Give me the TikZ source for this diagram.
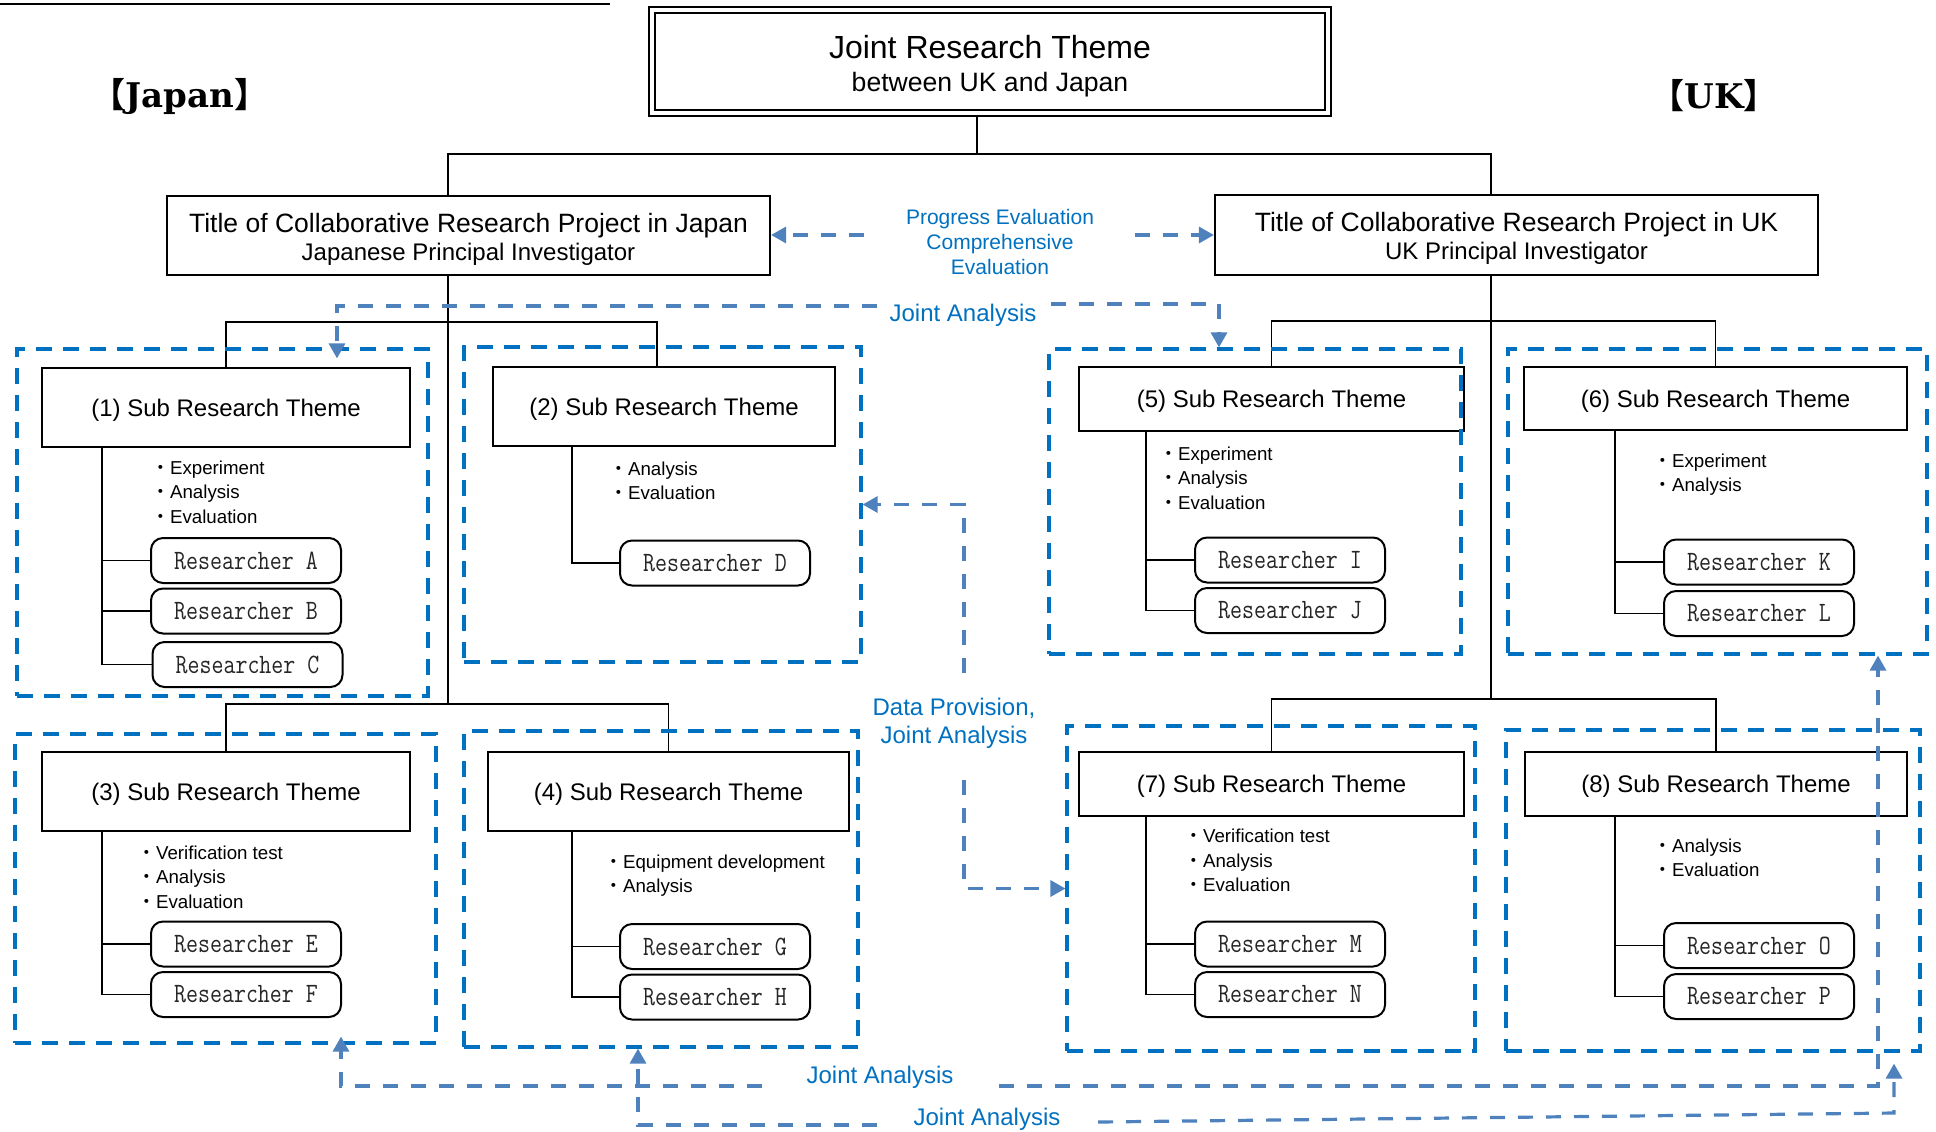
\documentclass[tikz,border=0pt]{standalone}
\usepackage{fontspec}
\usepackage{graphicx}
\setmainfont{Liberation Sans}
\newfontfamily\cjkfont{Noto Sans CJK JP}
\newfontfamily\brserif{DejaVu Serif}
\usetikzlibrary{arrows.meta,calc,backgrounds}
\definecolor{frameblue}{RGB}{0,112,192}
\definecolor{arrblue}{RGB}{79,129,189}
\newcommand{\bul}{{\cjkfont ・}}
\newcommand{\resname}[1]{\scalebox{0.83}[1]{\ttfamily\fontsize{14}{14}\selectfont #1}}
\newcommand{\thm}[1]{\rule{0pt}{11.3pt}#1}
\begin{document}
\begin{tikzpicture}[x=0.5pt,y=-0.5pt,
 conn/.style={draw=black,line width=0.9pt},
 box/.style={draw=black,line width=1.1pt,fill=white,inner sep=0pt,align=center},
 theme/.style={box,font=\fontsize{12}{14}\selectfont},
 frame/.style={draw=frameblue,line width=1.6pt,dash pattern=on 8pt off 5.5pt,inner sep=0pt},
 rbox/.style={draw=black,line width=1pt,rounded corners=6pt,fill=white,minimum width=95pt,minimum height=22.5pt,inner sep=0pt,text=black!85},
 blist/.style={anchor=west,align=left,inner sep=0pt,font=\fontsize{9.35}{12.25}\selectfont},
 lab/.style={text=frameblue,align=center,inner sep=0pt},
 arr/.style={draw=arrblue,line width=1.6pt,dash pattern=on 7.5pt off 6.5pt,-{Triangle[length=7.5pt,width=8pt]}},
]
\useasboundingbox (0,0) rectangle (1936,1131);

% stray top rule
\draw[line width=1pt] (0,4) -- (610,4);

% side labels
\node[font=\brserif\bfseries\fontsize{17}{20}\selectfont,inner sep=0pt] (lbljp) at (180,96) {{\cjkfont\bfseries 【}Japan{\cjkfont\bfseries 】}};
\node[font=\brserif\bfseries\fontsize{17}{20}\selectfont,inner sep=0pt] (lbluk) at (1714,96) {{\cjkfont\bfseries 【}UK{\cjkfont\bfseries 】}};

% title
\node[box,double,double distance=2pt,line width=1.1pt,minimum width=338pt,minimum height=51.5pt,font=\fontsize{16}{16.5}\selectfont] (title) at (990,61.5)
 {\rule{0pt}{16.2pt}Joint Research Theme\\{\fontsize{13.3}{16.5}\selectfont between UK and Japan}};

% project boxes
\node[box,minimum width=301.5pt,minimum height=39.5pt,font=\fontsize{13.25}{14}\selectfont] (jp) at (468.5,235.5)
 {\rule{0pt}{13.4pt}Title of Collaborative Research Project in Japan\\{\fontsize{12}{14}\selectfont Japanese Principal Investigator}};
\node[box,minimum width=301.5pt,minimum height=40pt,font=\fontsize{13.25}{14}\selectfont] (uk) at (1516.5,235)
 {\rule{0pt}{13.4pt}Title of Collaborative Research Project in UK\\{\fontsize{12}{14}\selectfont UK Principal Investigator}};

% sub theme boxes
\node[theme,minimum width=184pt,minimum height=39.5pt] (s1) at (226,407.5) {\thm{(1) Sub Research Theme}};
\node[theme,minimum width=171pt,minimum height=39.5pt] (s2) at (664,406.5) {\thm{(2) Sub Research Theme}};
\node[theme,minimum width=184pt,minimum height=39.5pt] (s3) at (226,791.5) {\thm{(3) Sub Research Theme}};
\node[theme,minimum width=180.5pt,minimum height=39.5pt] (s4) at (668.5,791.5) {\thm{(4) Sub Research Theme}};
\node[theme,minimum width=192.5pt,minimum height=32pt] (s5) at (1271.5,399) {\thm{(5) Sub Research Theme}};
\node[theme,minimum width=191.5pt,minimum height=31.5pt] (s6) at (1715.5,398.5) {\thm{(6) Sub Research Theme}};
\node[theme,minimum width=192.5pt,minimum height=32pt] (s7) at (1271.5,784) {\thm{(7) Sub Research Theme}};
\node[theme,minimum width=191pt,minimum height=32pt] (s8) at (1716,784) {\thm{(8) Sub Research Theme}};

% researchers
\node[rbox] (rA) at (246,560.5) {\resname{Researcher A}};
\node[rbox] (rB) at (246,611) {\resname{Researcher B}};
\node[rbox] (rC) at (247.5,664.5) {\resname{Researcher C}};
\node[rbox] (rD) at (715,563) {\resname{Researcher D}};
\node[rbox] (rE) at (246,944) {\resname{Researcher E}};
\node[rbox] (rF) at (246,994.5) {\resname{Researcher F}};
\node[rbox] (rG) at (715,946.5) {\resname{Researcher G}};
\node[rbox] (rH) at (715,997) {\resname{Researcher H}};
\node[rbox] (rI) at (1290,560) {\resname{Researcher I}};
\node[rbox] (rJ) at (1290,610.5) {\resname{Researcher J}};
\node[rbox] (rK) at (1759,562) {\resname{Researcher K}};
\node[rbox] (rL) at (1759,613.5) {\resname{Researcher L}};
\node[rbox] (rM) at (1290,944) {\resname{Researcher M}};
\node[rbox] (rN) at (1290,994.5) {\resname{Researcher N}};
\node[rbox] (rO) at (1759,945.5) {\resname{Researcher O}};
\node[rbox] (rP) at (1759,996.5) {\resname{Researcher P}};

% task lists
\node[blist] (b1) at (151,492) {\bul Experiment\\\bul Analysis\\\bul Evaluation};
\node[blist] (b2) at (609,481) {\bul Analysis\\\bul Evaluation};
\node[blist] (b3) at (137,877) {\bul Verification test\\\bul Analysis\\\bul Evaluation};
\node[blist] (b4) at (604,875.5) {\bul Equipment development\\\bul Analysis};
\node[blist] (b5) at (1159,478) {\bul Experiment\\\bul Analysis\\\bul Evaluation};
\node[blist] (b6) at (1653,474.5) {\bul Experiment\\\bul Analysis};
\node[blist] (b7) at (1184,860.5) {\bul Verification test\\\bul Analysis\\\bul Evaluation};
\node[blist] (b8) at (1653,858) {\bul Analysis\\\bul Evaluation};

% dashed group frames
\node[frame,minimum width=205.5pt,minimum height=173.5pt] (g1) at (222.5,522.5) {};
\node[frame,minimum width=198.5pt,minimum height=157.5pt] (g2) at (662.5,504.5) {};
\node[frame,minimum width=210.5pt,minimum height=154.5pt] (g3) at (225.5,888.5) {};
\node[frame,minimum width=197pt,minimum height=158pt] (g4) at (661,889) {};
\node[frame,minimum width=206pt,minimum height=152.5pt] (g5) at (1255,501.5) {};
\node[frame,minimum width=209.5pt,minimum height=152.5pt] (g6) at (1717.5,501.5) {};
\node[frame,minimum width=204pt,minimum height=162.5pt] (g7) at (1271,888.5) {};
\node[frame,minimum width=207pt,minimum height=160.5pt] (g8) at (1713,890.5) {};

% blue labels
\node[lab,font=\fontsize{10.5}{12.5}\selectfont] (prog) at (1000,242) {Progress Evaluation\\Comprehensive\\Evaluation};
\node[lab,font=\fontsize{12}{14}\selectfont] (ja1) at (963,315) {Joint Analysis};
\node[lab,font=\fontsize{12}{14}\selectfont] (dp) at (954,723) {Data Provision,\\Joint Analysis};
\node[lab,font=\fontsize{12}{14}\selectfont] (ja2) at (880,1077) {Joint Analysis};
\node[lab,font=\fontsize{12}{14}\selectfont] (ja3) at (987,1119) {Joint Analysis};

% helper coordinates
\coordinate (tt) at (977,154);
\coordinate (jx) at (448,0);
\coordinate (ux) at (1491,0);
\coordinate (jm) at (448,322);
\coordinate (jb) at (448,704);
\coordinate (um) at (1491,321);
\coordinate (ub) at (1491,699);
\coordinate (s2x) at (657,0);
\coordinate (k1) at (102,0);
\coordinate (k2) at (572,0);
\coordinate (k5) at (1146,0);
\coordinate (k6) at (1615,0);

% black tree connectors
\begin{scope}[on background layer]
\draw[conn] (title.south -| tt) -- (tt) -| (jp.north -| jx);
\draw[conn] (tt) -| (uk.north -| ux);
\draw[conn] (jp.south -| jx) -- (jb);
\draw[conn] (s1.north) |- (jm) -| (s2.north -| s2x);
\draw[conn] (s3.north) |- (jb) -| (s4.north);
\draw[conn] (uk.south -| ux) -- (ub);
\draw[conn] (s5.north) |- (um) -| (s6.north);
\draw[conn] (s7.north) |- (ub) -| (s8.north);
% sub trees
\draw[conn] (s1.south -| k1) |- (rC.west);
\draw[conn] (k1 |- rA.west) -- (rA.west);
\draw[conn] (k1 |- rB.west) -- (rB.west);
\draw[conn] (s2.south -| k2) |- (rD.west);
\draw[conn] (s3.south -| k1) |- (rF.west);
\draw[conn] (k1 |- rE.west) -- (rE.west);
\draw[conn] (s4.south -| k2) |- (rH.west);
\draw[conn] (k2 |- rG.west) -- (rG.west);
\draw[conn] (s5.south -| k5) |- (rJ.west);
\draw[conn] (k5 |- rI.west) -- (rI.west);
\draw[conn] (s6.south -| k6) |- (rL.west);
\draw[conn] (k6 |- rK.west) -- (rK.west);
\draw[conn] (s7.south -| k5) |- (rN.west);
\draw[conn] (k5 |- rM.west) -- (rM.west);
\draw[conn] (s8.south -| k6) |- (rP.west);
\draw[conn] (k6 |- rO.west) -- (rO.west);
\end{scope}

% blue dashed arrows
\coordinate (pa) at (864,235);
\coordinate (pb) at (1135,235);
\draw[arr] (pa) -- (pa -| jp.east);
\draw[arr] (pb) -- (pb -| uk.west);

\coordinate (ja1l) at (877,306);
\coordinate (ja1r) at (1051,304);
\coordinate (x337) at (337,0);
\coordinate (x1219) at (1219,0);
\draw[arr] (ja1l) -| ($(g1.north -| x337)+(0,11)$);
\draw[arr] (ja1r) -| (g5.north -| x1219);

\coordinate (dpt) at (964,673);
\coordinate (dpb) at (964,780);
\draw[arr] (dpt) |- (g2.east);
\draw[arr] (dpb) |- (g7.west);

\coordinate (j2l) at (762,1086);
\coordinate (j2r) at (999,1086);
\coordinate (x341) at (341,0);
\coordinate (x1878) at (1878,0);
\draw[arr] (j2l) -| ($(g3.south -| x341)+(0,-8)$);
\draw[arr] (j2r) -| (g6.south -| x1878);

\coordinate (j3l) at (877,1125);
\coordinate (j3r) at (1098,1122);
\coordinate (j3c) at (1894,1113);
\coordinate (x638) at (638,0);
\draw[arr] (j3l) -| (g4.south -| x638);
\draw[arr] (j3r) -- (j3c) -- ($(g8.south -| j3c)+(0,11)$);
\end{tikzpicture}
\end{document}
